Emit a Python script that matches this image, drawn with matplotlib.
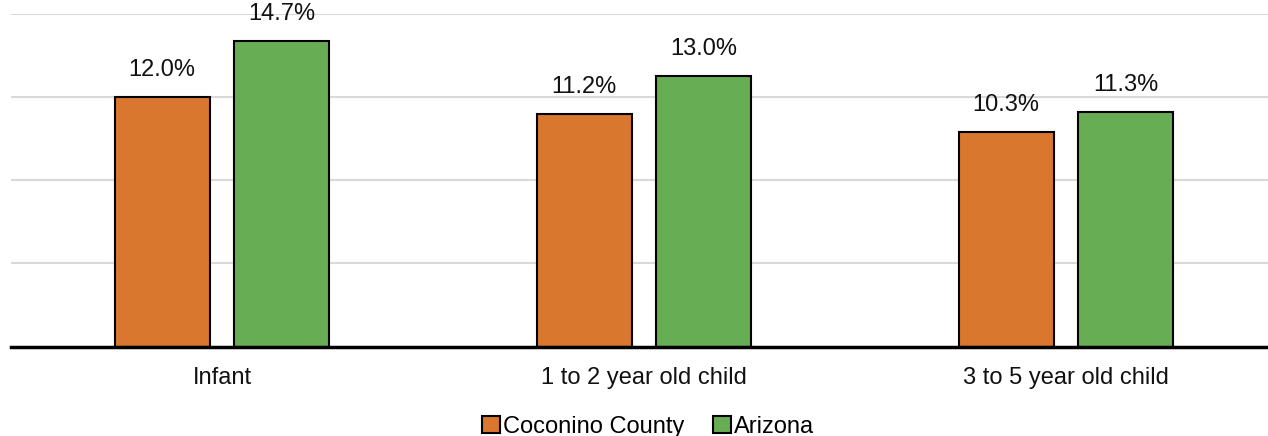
import matplotlib
matplotlib.use("Agg")
import matplotlib.pyplot as plt
import numpy as np
from matplotlib.patches import Patch

categories = ["Infant", "1 to 2 year old child", "3 to 5 year old child"]
coconino = [12.0, 11.2, 10.3]
arizona = [14.7, 13.0, 11.3]
series_names = ["Coconino County", "Arizona"]
colors = ["#D9772F", "#67AD53"]

plt.rcParams["font.family"] = ["Liberation Sans", "DejaVu Sans"]

W, H = 1268, 436
fig = plt.figure(figsize=(W / 100, H / 100), dpi=100)
left, right = 11 / W, 1268 / W
bottom, top = (H - 346.5) / H, (H - 14) / H
ax = fig.add_axes([left, bottom, right - left, top - bottom])

x = np.arange(len(categories))
width = 0.225
offset = 0.142
bars1 = ax.bar(x - offset, coconino, width, color=colors[0], edgecolor="black", linewidth=1.5, zorder=3)
bars2 = ax.bar(x + offset, arizona, width, color=colors[1], edgecolor="black", linewidth=1.5, zorder=3)

for bars, vals in ((bars1, coconino), (bars2, arizona)):
    for b, v in zip(bars, vals):
        ax.annotate(f"{v:.1f}%", (b.get_x() + b.get_width() / 2, v),
                    xytext=(0, 11.5), textcoords="offset points",
                    ha="center", va="bottom", fontsize=17, color="#111111")

ax.set_ylim(0, 16)
ax.set_xlim(-0.5, -0.5 + 1257 / 422)
ax.set_yticks([4, 8, 12, 16])
ax.yaxis.grid(True, color="#D9D9D9", linewidth=1.5, zorder=0)
ax.tick_params(axis="y", left=False, labelleft=False)
ax.set_xticks(x)
ax.set_xticklabels(categories, fontsize=17, color="#111111")
ax.tick_params(axis="x", length=0, pad=15)
for s in ("top", "right", "left"):
    ax.spines[s].set_visible(False)
ax.spines["bottom"].set_linewidth(2.5)
ax.spines["bottom"].set_zorder(4)

handles = [Patch(facecolor=c, edgecolor="black", linewidth=1.5) for c in colors]
fig.legend(handles, series_names, loc="center", bbox_to_anchor=(648 / W, (H - 427) / H),
           ncol=2, frameon=False, fontsize=17, handlelength=0.75, handleheight=0.75,
           handletextpad=0.15, columnspacing=1.2, borderaxespad=0, borderpad=0)

fig.savefig("out.png", dpi=100)
